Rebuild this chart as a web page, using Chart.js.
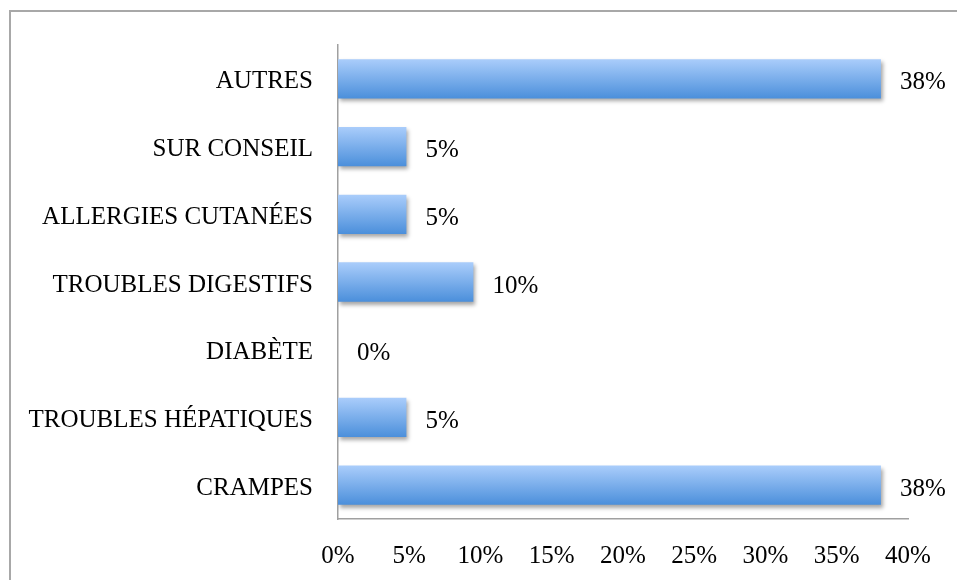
<!DOCTYPE html>
<html>
<head>
<meta charset="utf-8">
<script src="https://cdn.jsdelivr.net/npm/chart.js@4.4.1/dist/chart.umd.min.js"></script>
<style>
  html, body { margin: 0; padding: 0; background: #fff; overflow: hidden; }
  #wrap { position: relative; width: 957px; height: 580px; }
  #frame { position: absolute; left: 9px; top: 10px; width: 1000px; height: 1000px; border: 2px solid #a8a8a8; box-sizing: border-box; }
  canvas { position: absolute; left: 0; top: 0; }
</style>
</head>
<body>
<div id="wrap">
  <div id="frame"></div>
  <canvas id="chart1" width="957" height="580"></canvas>
</div>
<script>
// categories, top to bottom
const categories = [
  "AUTRES",
  "SUR CONSEIL",
  "ALLERGIES CUTANÉES",
  "TROUBLES DIGESTIFS",
  "DIABÈTE",
  "TROUBLES HÉPATIQUES",
  "CRAMPES",
];
// share of answers, in percent
const shares = [38.1, 4.8, 4.8, 9.5, 0, 4.8, 38.1];
const xTicks = [0, 5, 10, 15, 20, 25, 30, 35, 40];

const FONT = "'Liberation Serif', 'DejaVu Serif', serif";

// gradient fill + soft shadow under the bars, then the value labels
const barLook = {
  id: "barLook",
  beforeDatasetsDraw(chart) {
    const ctx = chart.ctx;
    chart.getDatasetMeta(0).data.forEach((bar) => {
      const p = bar.getProps(["y", "height"], true);
      const g = ctx.createLinearGradient(0, p.y - p.height / 2, 0, p.y + p.height / 2);
      g.addColorStop(0, "#aacdfb");
      g.addColorStop(1, "#4b8fdb");
      // options are shared between bars, so give each its own copy
      bar.options = Object.assign({}, bar.options, { backgroundColor: g });
    });
    ctx.save();
    ctx.shadowColor = "rgba(0,0,0,0.35)";
    ctx.shadowOffsetX = 2;
    ctx.shadowOffsetY = 3;
    ctx.shadowBlur = 4;
  },
  afterDatasetsDraw(chart) {
    const ctx = chart.ctx;
    ctx.restore();
    ctx.save();
    ctx.font = "25px " + FONT;
    ctx.fillStyle = "#000";
    ctx.textAlign = "left";
    ctx.textBaseline = "middle";
    chart.getDatasetMeta(0).data.forEach((bar, i) => {
      const p = bar.getProps(["x", "y"], true);
      ctx.fillText(Math.round(shares[i]) + "%", p.x + 19, p.y + 4);
    });
    ctx.restore();
  },
};

const ctx = document.getElementById("chart1").getContext("2d");
const myChart = new Chart(ctx, {
  type: "bar",
  data: {
    labels: categories,
    datasets: [
      {
        data: shares,
        backgroundColor: "#7aaee9",
        borderWidth: 0,
        categoryPercentage: 1,
        barPercentage: 0.58,
      },
    ],
  },
  options: {
    indexAxis: "y",
    responsive: false,
    animation: false,
    layout: { padding: { left: 0, right: 49, top: 45, bottom: 0 } },
    plugins: { legend: { display: false }, tooltip: { enabled: false } },
    scales: {
      x: {
        min: 0,
        max: 40,
        afterBuildTicks(scale) {
          scale.ticks = xTicks.map((v) => ({ value: v }));
        },
        afterFit(scale) {
          scale.height = 61;
        },
        grid: { display: false, drawTicks: false },
        border: { display: true, color: "#a0a0a0", width: 1.5 },
        ticks: {
          color: "#000",
          font: { family: FONT, size: 25 },
          padding: 22,
          maxRotation: 0,
          callback: (v) => v + "%",
        },
      },
      y: {
        afterFit(scale) {
          scale.width = 338;
        },
        grid: { display: false, drawTicks: false },
        border: { display: true, color: "#a0a0a0", width: 1.5 },
        ticks: {
          color: "#000",
          font: { family: FONT, size: 25 },
          padding: 25,
          labelOffset: 3,
        },
      },
    },
  },
  plugins: [barLook],
});
</script>
</body>
</html>
